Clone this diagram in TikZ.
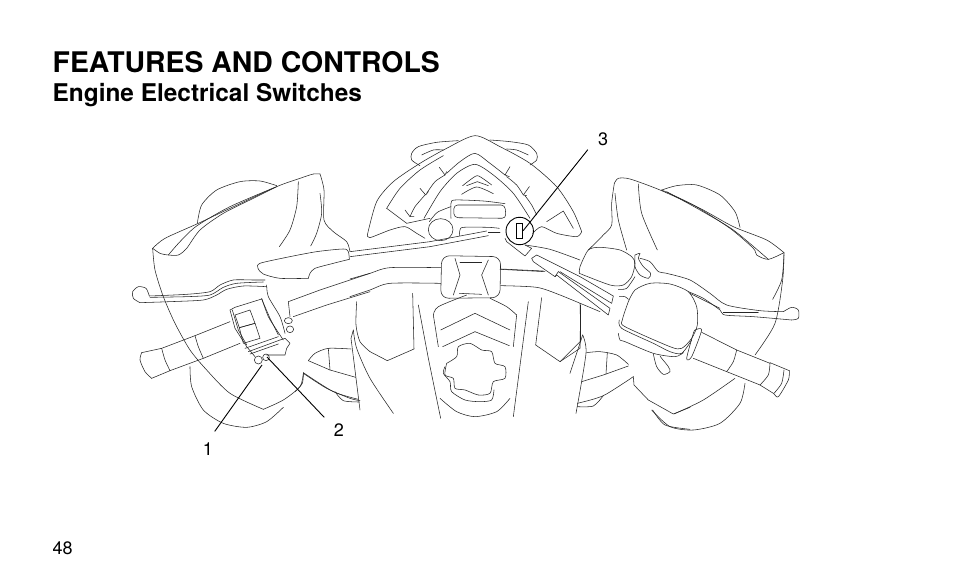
\documentclass[tikz,border=0pt]{standalone}
\usepackage{fontspec}
\setmainfont{TeX Gyre Heros}
\newcommand\cv[1]{\draw[ln] plot[smooth,tension=.45] coordinates {#1};}
\tikzset{
  ln/.style={line width=.55pt,black!85,line cap=round,line join=round},
  leader/.style={line width=.9pt,black},
  zl/.style={shift={(120,170)},scale=1/3},
  zc/.style={shift={(350,125)},scale=1/3},
  zr/.style={shift={(560,170)},scale=1/3},
  zk/.style={shift={(500,220)},scale=1/3},
  title/.style={anchor=base west,inner sep=0,font=\fontsize{28.4}{30}\selectfont\bfseries},
  subtitle/.style={anchor=base west,inner sep=0,font=\fontsize{24.4}{26}\selectfont\bfseries},
  callout/.style={inner sep=0,font=\fontsize{18}{20}\selectfont},
}
\begin{document}
\begin{tikzpicture}[x=1pt,y=-1pt]
\useasboundingbox (0,0) rectangle (954,588);
\fill[white] (0,0) rectangle (954,588);
\node[title] (t1) at (52.5,72.5) {FEATURES AND CONTROLS};
\node[subtitle] (t2) at (52.5,102) {Engine Electrical Switches};
\node[callout,anchor=base west] (pg) at (52.5,554) {48};
\node[callout] (l1) at (208,449) {1};
\node[callout] (l2) at (339,430) {2};
\node[callout] (l3) at (603,139) {3};
% ---------- left side
\begin{scope}[zl]
\cv{(98,235)(135,205)(235,160)(330,115)(470,50)(540,25)(580,12)(600,12)}
\cv{(600,12)(612,60)(612,150)(640,185)(680,215)(690,245)}
\cv{(98,235)(105,300)(130,380)(165,460)(210,540)(260,600)(330,670)(430,718)}
\cv{(430,718)(490,690)(540,650)(550,610)}
\cv{(550,610)(620,655)(690,685)(720,692)}
\cv{(232,160)(245,105)(290,60)(360,35)(420,33)(470,47)}
\cv{(210,590)(215,650)(250,720)(310,760)(380,772)(440,755)(490,712)}
\cv{(98,235)(120,250)(145,255)(175,255)(200,235)(240,180)(310,130)(400,85)(470,50)}
\cv{(145,255)(180,215)(230,168)(330,110)(465,52)}
\cv{(535,35)(530,110)(510,180)(478,230)}
\cv{(600,70)(605,130)(590,190)(572,228)}
% lever clamp
\cv{(565,325)(480,325)(430,312)(414,295)(420,280)(500,262)(590,245)(670,237)(685,245)(688,268)}
\cv{(688,268)(640,280)(585,295)(570,310)(565,325)}
% brake lever
\cv{(435,330)(400,330)(340,330)(300,345)(270,365)(200,373)(88,378)}
\cv{(88,378)(78,355)(55,350)(38,365)(40,385)(60,398)}
\cv{(60,398)(150,395)(250,390)(290,375)(320,358)(370,348)(440,350)}
\cv{(90,382)(200,380)(270,375)(310,352)(350,340)(430,336)}
\cv{(440,345)(445,380)(480,440)(495,490)}
\cv{(425,385)(445,440)(470,480)(490,510)}
% bar
\draw[ln] (510,440)--(505,395)--(600,360)--(750,310);
\draw[ln] (520,440)--(620,405)--(750,365);
\draw[ln] (505,452) ellipse (12 and 9);
\draw[ln] (510,478) ellipse (11 and 10);
% housing
\draw[ln] (330,420)--(345,412)--(425,387)--(450,445)--(475,495);
\draw[ln] (330,420)--(345,475)--(380,530)--(405,560);
\draw[ln] (337,420)--(355,480)--(380,525);
\draw[ln] (345,435)--(390,420)--(405,460)--(358,473)--cycle;
\draw[ln] (358,473)--(405,460)--(420,505)--(370,520)--cycle;
\draw[ln] (375,535)--(475,500);
\draw[ln] (385,545)--(480,510);
\draw[ln] (390,552)--(475,522);
\draw[ln] (440,555)--(495,555)--(500,535)--(510,520)--(495,505)--(480,510);
\draw[ln] (415,570) circle (12);
\draw[ln] (438,562) circle (10);
% grip
\draw[ln] (125,535)--(225,497)--(330,455);
\draw[ln] (150,602)--(250,565)--(360,520);
\draw[ln] (65,548)--(125,535);
\draw[ln] (95,625)--(150,602);
\cv{(65,548)(60,570)(75,605)(95,625)}
\cv{(125,535)(135,570)(150,602)}
\cv{(225,497)(235,530)(250,565)}
\end{scope}
% wing left
\begin{scope}[shift={(290,330)},scale=1/3]
\cv{(55,92)(75,70)(115,55)(183,57)}
\draw[ln] (55,92)--(120,120)--(197,142);
\draw[ln] (115,55)--(120,120);
\cv{(40,128)(37,160)(15,185)}
\cv{(40,128)(130,185)(205,208)}
\cv{(135,185)(160,212)(208,216)}
\end{scope}
% ---------- centre
\begin{scope}[zc]
\cv{(52,330)(80,230)(130,170)(210,115)(290,70)(375,32)(450,65)(540,115)(620,185)(670,260)(695,320)}
\cv{(52,330)(60,338)(120,315)(165,305)(200,325)(225,340)}
\cv{(695,320)(680,335)(620,325)(575,305)(548,325)}
\cv{(210,122)(185,105)(185,85)(205,65)(260,52)(325,47)}
\cv{(540,120)(560,105)(560,85)(535,60)(480,50)(420,45)}
\cv{(215,90)(250,75)(280,75)}
\cv{(535,90)(500,75)(470,72)}
\cv{(110,250)(150,190)(210,135)(280,92)}
\draw[ln] (110,250)--(170,295)--(240,280);
\cv{(180,275)(195,245)(225,210)}
\cv{(230,205)(255,170)(285,150)}
\cv{(290,145)(330,110)(375,85)(420,115)(465,150)}
\cv{(470,155)(500,180)(520,210)}
\cv{(525,212)(545,240)(560,270)}
\draw[ln] (165,255)--(180,275)--(192,275);
\draw[ln] (210,190)--(227,210)--(235,200);
\draw[ln] (268,127)--(285,150)--(290,140);
\draw[ln] (480,125)--(465,150)--(478,155);
\draw[ln] (538,185)--(520,210)--(530,212);
\draw[ln] (590,290)--(640,258);
\draw[ln] (640,258)--(670,310);
\cv{(222,280)(270,200)(320,145)(375,118)(430,150)(490,205)(540,280)}
\cv{(338,182)(360,165)(382,152)(405,165)(425,180)}
\draw[ln] (350,182)--(382,170)--(415,182);
\cv{(335,208)(380,186)(430,206)}
% display
\draw[ln,rounded corners=4pt] (311,240)--(465,240)--(468,280)--(312,278)--cycle;
\cv{(303,280)(303,235)(315,225)(400,228)(465,236)}
\cv{(238,290)(262,262)(303,245)}
\draw[ln] (272,314) ellipse (37 and 33);
\cv{(328,332)(330,315)(340,307)(415,307)(448,310)}
\draw[ln] (415,322)--(450,322);
% brake line
\draw[ln] (0,380)--(240,350)--(410,318);
\draw[ln] (0,395)--(240,365)--(415,332);
% pad
\draw[ln,rounded corners=8pt] (275,392)--(452,395)--(450,518)--(272,520)--cycle;
\draw[ln] (315,400)--(330,450)--(310,510);
\draw[ln] (415,405)--(395,450)--(415,510);
\draw[ln] (330,412)--(395,412);
\draw[ln] (328,505)--(395,508);
\cv{(0,462)(60,445)(120,428)(272,428)}
\cv{(0,515)(60,495)(120,475)(272,475)}
\draw[ln] (452,432)--(580,438);
\cv{(452,482)(560,487)(630,510)(750,560)}
% lower fairing
\cv{(20,530)(18,600)(30,650)(60,680)}
\draw[ln] (60,680)--(112,707)--(192,672)--(188,505);
\draw[ln] (205,540)--(235,700)--(272,880);
\draw[ln] (575,518)--(557,660)--(630,710)--(690,670)--(692,545);
\draw[ln] (535,530)--(490,875);
\draw[ln] (10,615)--(3,640)--(30,855);
\cv{(10,615)(20,670)(60,760)(130,865)}
\cv{(250,570)(265,545)(350,510)}
\draw[ln] (250,570)--(265,665);
\cv{(500,570)(470,545)(420,520)}
\draw[ln] (500,570)--(490,665);
\draw[ln] (272,615)--(375,565)--(480,615);
\draw[ln] (278,665)--(375,620)--(478,662);
\cv{(290,715)(320,695)(325,665)(360,655)(395,675)(425,680)(435,715)(465,725)(465,760)(430,770)(420,805)(385,810)(345,795)(315,790)(310,760)(285,750)(290,715)}
\cv{(285,725)(280,745)(300,770)(305,800)(345,825)(390,830)(425,825)(432,795)}
\cv{(270,820)(320,860)(375,875)(440,860)(480,820)}
\end{scope}
% key switch
\node[draw,line width=.9pt,circle,minimum size=27.4pt,inner sep=0] (sw) at (519.7,231) {};
\node[draw,line width=.7pt,minimum width=6pt,minimum height=15pt,inner sep=0] (key) at (519.7,230.8) {};
% stalk
\begin{scope}[zk]
\draw[ln] (15,55)--(20,65)--(75,108)--(95,85)--(75,75);
\cv{(75,75)(150,88)(240,120)}
\draw[ln] (110,105)--(95,115)--(100,125)--(165,170)--(175,155);
\draw[ln] (110,105)--(240,170)--(340,228)--(335,250)--(180,155);
\draw[ln] (175,155)--(330,265)--(325,285)--(170,165)--(165,170);
\draw[ln] (0,148)--(135,155);
\draw[ln] (240,250)--(242,330);
\end{scope}
% ---------- right side
\begin{scope}[zr]
\cv{(163,40)(175,25)(210,27)(300,60)(420,115)(520,170)(620,210)(672,248)}
\cv{(163,40)(155,100)(155,165)(130,195)(85,240)}
\cv{(672,248)(668,330)(645,460)(585,555)}
\cv{(525,625)(430,690)(342,732)}
\cv{(305,60)(400,105)(510,175)(580,235)(590,255)(625,268)(672,248)}
\cv{(320,65)(420,120)(520,180)(625,268)}
\cv{(235,42)(245,130)(292,240)}
\cv{(165,70)(175,150)(200,240)}
\cv{(672,255)(665,330)(638,388)}
\cv{(305,60)(350,47)(410,45)(480,75)(525,125)(540,172)}
\cv{(555,640)(540,700)(480,760)(400,780)(330,770)(275,720)}
% lever
\cv{(695,450)(715,445)(715,420)(695,412)(670,425)}
\cv{(670,425)(600,422)(500,405)(450,370)(390,330)(320,310)(295,305)(270,275)(240,265)}
\cv{(695,450)(580,440)(495,435)(480,420)(430,385)(385,365)}
\draw[ln] (490,427)--(595,427);
\draw[ln] (390,370)--(480,415);
% clip
\cv{(225,255)(240,250)(235,265)(250,290)(272,310)(265,325)(240,315)(225,290)(225,255)}
% reservoir
\cv{(58,310)(60,290)(85,240)(120,232)(180,240)(215,260)(225,280)(215,320)(190,345)(150,345)(58,310)}
\cv{(175,358)(200,355)(225,320)}
% big cup
\cv{(205,395)(225,360)(270,340)(330,342)(385,365)(410,410)(412,465)(395,505)(365,535)(330,530)(195,470)(187,450)(205,395)}
\cv{(178,450)(185,475)(280,520)(330,545)(365,550)(395,510)}
\cv{(175,490)(180,510)(195,515)(280,550)(345,560)(370,548)}
\cv{(178,380)(195,380)(205,388)}
\cv{(280,552)(290,590)(310,613)(330,605)(325,590)(305,565)(300,558)}
% grip
\cv{(405,480)(425,480)(395,560)(380,565)(400,490)(405,480)}
\draw[ln] (425,487)--(530,540)--(630,580);
\draw[ln] (400,565)--(500,605)--(600,645);
\cv{(530,540)(520,575)(500,605)}
\cv{(630,580)(625,615)(600,645)}
\draw[ln] (630,578)--(688,602);
\cv{(688,602)(685,630)(655,680)(640,670)(600,645)}
\cv{(672,600)(665,640)(642,670)}
\draw[ln] (60,405)--(60,515);
\draw[ln] (60,515)--(0,575);
\end{scope}
\begin{scope}[shift={(570,330)},scale=1/3]
\cv{(50,68)(90,65)(140,75)(175,103)}
\draw[ln] (35,155)--(100,135)--(175,108);
\draw[ln] (112,68)--(108,132);
\cv{(38,15)(48,70)(18,250)}
\cv{(38,15)(25,55)(0,130)}
\cv{(22,220)(100,197)(190,140)}
\draw[ln] (190,140)--(192,165)--(235,210)--(310,252)--(360,232);
\cv{(22,230)(70,228)(100,197)}
\cv{(248,240)(285,285)(360,298)}
\end{scope}
% ---------- leaders
\coordinate (t1p) at (262,365);
\coordinate (t2p) at (267,357);
\draw[leader] ([shift={(1.5,-11)}]l1.north east) -- (t1p);
\draw[leader] ([shift={(-9.5,-6)}]l2.north west) -- (t2p);
\draw[leader] ([shift={(-10,4)}]l3.south west) -- (key.east);
\end{tikzpicture}
\end{document}
